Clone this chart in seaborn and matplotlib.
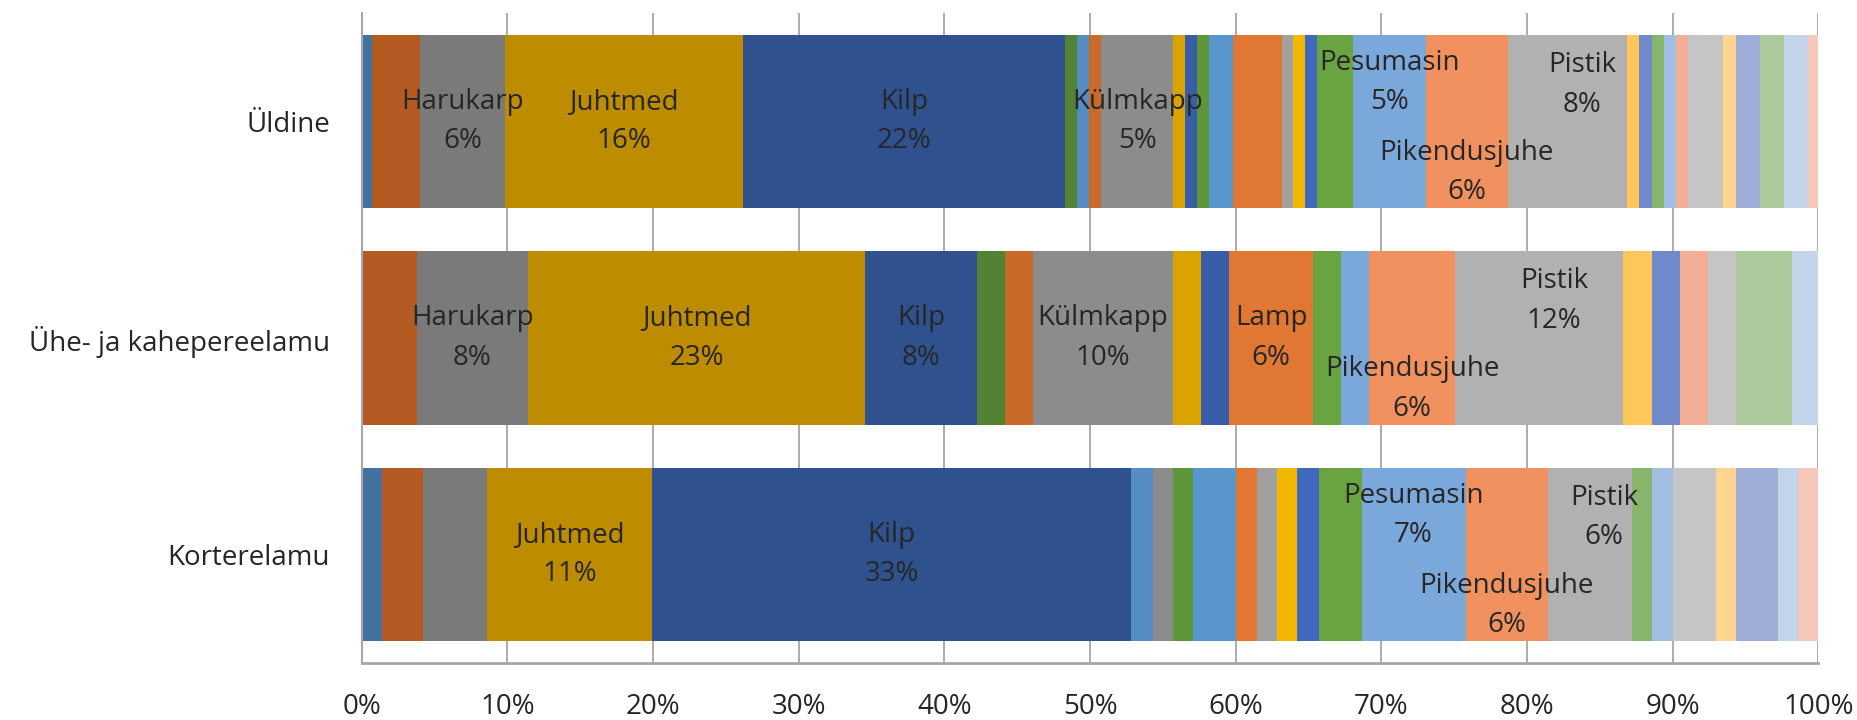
import numpy as np
import pandas as pd
import matplotlib
matplotlib.use("Agg")
import matplotlib.pyplot as plt
import seaborn as sns

# Categories (rows of the 100% stacked bar chart)
kategooriad = ["Üldine", "Ühe- ja kahepereelamu", "Korterelamu"]

# Names of the 32 stacked series (only the named ones carry labels)
seeriad = [None, None, "Harukarp", "Juhtmed", "Kilp", None, None, None,
           "Külmkapp", None, None, None, None, "Lamp", None, None,
           None, None, "Pesumasin", "Pikendusjuhe", "Pistik", None, None, None,
           None, None, None, None, None, None, None, None]

# Shares (%) of each series per category
uldine = [0.71, 3.31, 5.79, 16.34, 22.13, 0.84, 0.83, 0.80,
          4.96, 0.80, 0.85, 0.82, 1.65, 3.32, 0.80, 0.82,
          0.83, 2.47, 4.96, 5.63, 8.22, 0.82, 0.85, 0.82,
          0.82, 0.83, 2.45, 0.84, 1.65, 1.65, 1.65, 0.74]
uhe = [0.00, 3.77, 7.67, 23.11, 7.71, 1.92, 0.00, 1.92,
       9.61, 1.95, 1.90, 0.00, 0.00, 5.79, 0.00, 0.00,
       0.00, 1.92, 1.90, 5.93, 11.54, 1.95, 1.92, 0.00,
       0.00, 1.95, 1.89, 0.00, 0.00, 3.87, 1.82, 0.00]
korter = [1.42, 2.77, 4.39, 11.37, 32.86, 0.00, 1.53, 0.00,
          1.37, 0.00, 0.00, 1.38, 2.90, 1.49, 1.37, 1.38,
          1.50, 2.91, 7.14, 5.63, 5.77, 0.00, 0.00, 1.37,
          1.49, 0.00, 2.90, 1.37, 2.89, 0.00, 1.37, 1.43]

# Series colours, from dark shades to light tints
varvid = ["#41729F", "#B45B23", "#7A7A7A", "#BE8C00", "#2F528F", "#548235",
          "#558CC4", "#C96A2A", "#8C8C8C", "#D9A400", "#3A5DA8", "#5E963A",
          "#5A96CE", "#E07833", "#A0A0A0", "#F2B700", "#4068BD", "#6AA440",
          "#7BA8DB", "#F0915F", "#B1B1B1", "#FFC659", "#6F89CA", "#88B56C",
          "#A3BEE3", "#F2AF96", "#C5C5C5", "#FFD590", "#9DADD8", "#ABC99B",
          "#C3D3EA", "#F6C8B9"]

# Label nudges (x in %, y in category units) for crowded labels
nihked = {"Pesumasin": (0.0, -0.18), "Pistik": (1.0, -0.17),
          "Pikendusjuhe": (0.0, 0.235)}

sns.set_theme(style="white")
plt.rcParams["font.family"] = ["Open Sans", "DejaVu Sans"]

tekst = "#262626"
joon = "#A6A6A6"

vaartused = np.array([uldine, uhe, korter], dtype=float)
osad = vaartused / vaartused.sum(axis=1, keepdims=True) * 100
kumul = np.cumsum(osad, axis=1)

fig, ax = plt.subplots(figsize=(18.58, 7.2), dpi=100)
fig.subplots_adjust(left=0.1947, right=0.9787, bottom=0.0796, top=0.9815)

# Stacked bars: draw running totals from the longest to the shortest
for k in range(len(seeriad) - 1, -1, -1):
    d = pd.DataFrame({"kategooria": kategooriad, "osa": kumul[:, k]})
    sns.barplot(data=d, x="osa", y="kategooria", order=kategooriad,
                color=varvid[k], saturation=1, width=0.8, errorbar=None,
                linewidth=0, ax=ax)

# Data labels for the larger segments
for i in range(len(kategooriad)):
    algus = 0.0
    for k, nimi in enumerate(seeriad):
        osa = osad[i, k]
        if nimi is not None and round(osa) >= 5:
            dx, dy = nihked.get(nimi, (0.0, 0.0))
            ax.text(algus + osa / 2 + dx, i + dy, f"{nimi}\n{round(osa)}%",
                    ha="center", va="center", fontsize=20, color=tekst,
                    linespacing=1.55)
        algus += osa

ax.set_xlim(0, 100)
ax.set_ylim(2.5, -0.5)
ax.set_xticks(range(0, 101, 10))
ax.set_xticklabels([f"{v}%" for v in range(0, 101, 10)])
ax.set_xlabel("")
ax.set_ylabel("")

ax.set_axisbelow(True)
ax.xaxis.grid(True, color=joon, linewidth=1.3)
ax.yaxis.grid(False)

for s in ("top", "right"):
    ax.spines[s].set_visible(False)
ax.spines["left"].set_color(joon)
ax.spines["left"].set_linewidth(1.5)
ax.spines["bottom"].set_color(joon)
ax.spines["bottom"].set_linewidth(2.0)

ax.tick_params(axis="x", which="major", direction="out", length=8.6,
               width=1.3, color=joon, pad=13, labelsize=20, labelcolor=tekst)
ax.set_yticks([-0.5, 0.5, 1.5, 2.5], minor=True)
ax.tick_params(axis="y", which="minor", direction="out", length=7.2,
               width=1.5, color=joon)
ax.tick_params(axis="y", which="major", length=0, pad=23, labelsize=20,
               labelcolor=tekst)

fig.savefig("out.png", dpi=100)
